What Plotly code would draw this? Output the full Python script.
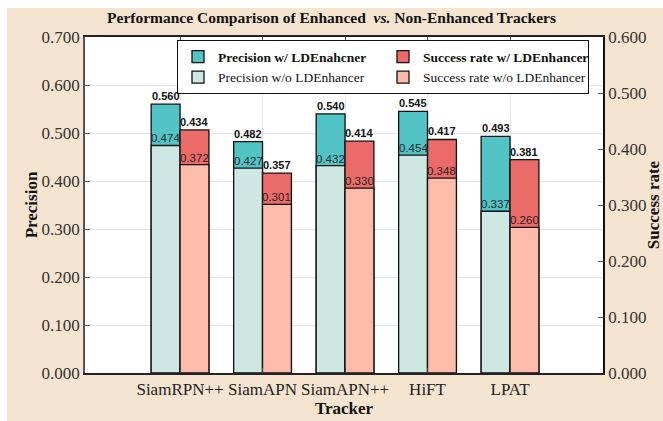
import plotly.graph_objects as go

trackers = ["SiamRPN++", "SiamAPN", "SiamAPN++", "HiFT", "LPAT"]
prec_with = [0.560, 0.482, 0.540, 0.545, 0.493]
prec_without = [0.474, 0.427, 0.432, 0.454, 0.337]
succ_with = [0.434, 0.357, 0.414, 0.417, 0.381]
succ_without = [0.372, 0.301, 0.330, 0.348, 0.260]

SERIF = "Times New Roman, Liberation Serif, serif"
SANS = "Arial, Liberation Sans, sans-serif"
BEIGE = "#F5E4D0"

idx = list(range(len(trackers)))
bw = 0.35
xp = [i - bw / 2 for i in idx]
xs = [i + bw / 2 for i in idx]

line = dict(color="#111111", width=1.3)
fig = go.Figure()
fig.add_trace(go.Bar(x=xp, y=prec_with, width=bw, name="<b>Precision w/ LDEnahcner</b>",
                     marker=dict(color="#52C4C6", line=line), yaxis="y"))
fig.add_trace(go.Bar(x=xs, y=succ_with, width=bw, name="<b>Success rate w/ LDEnhancer</b>",
                     marker=dict(color="#EB6B68", line=line), yaxis="y2"))
fig.add_trace(go.Bar(x=xp, y=prec_without, width=bw, name="Precision w/o LDEnhancer",
                     marker=dict(color="#CDE8E3", line=line), yaxis="y"))
fig.add_trace(go.Bar(x=xs, y=succ_without, width=bw, name="Success rate w/o LDEnhancer",
                     marker=dict(color="#FDBCAA", line=line), yaxis="y2"))

ann = []
for i in idx:
    ann.append(dict(x=xp[i], y=prec_with[i], xref="x", yref="y", text=f"<b>{prec_with[i]:.3f}</b>",
                    showarrow=False, yanchor="bottom", yshift=0,
                    font=dict(family=SANS, size=11, color="#111")))
    ann.append(dict(x=xp[i], y=prec_without[i], xref="x", yref="y", text=f"{prec_without[i]:.3f}",
                    showarrow=False, yanchor="bottom", yshift=-1,
                    font=dict(family=SANS, size=11.5, color="#1c2b2b")))
    ann.append(dict(x=xs[i], y=succ_with[i], xref="x", yref="y2", text=f"<b>{succ_with[i]:.3f}</b>",
                    showarrow=False, yanchor="bottom", yshift=0,
                    font=dict(family=SANS, size=11, color="#111")))
    ann.append(dict(x=xs[i], y=succ_without[i], xref="x", yref="y2", text=f"{succ_without[i]:.3f}",
                    showarrow=False, yanchor="bottom", yshift=-1,
                    font=dict(family=SANS, size=11.5, color="#2b1c1c")))

fig.update_layout(
    width=663, height=421,
    margin=dict(l=85, r=60, t=37, b=48, autoexpand=False),
    paper_bgcolor=BEIGE, plot_bgcolor="white",
    barmode="overlay",
    showlegend=True,
    title=dict(text="<b>Performance Comparison of Enhanced&nbsp; <i>vs.</i> Non-Enhanced Trackers</b>",
               x=0.5, xanchor="center", y=1 - 18 / 421, yanchor="middle",
               font=dict(family=SERIF, size=15.5, color="#111")),
    font=dict(family=SERIF, size=17, color="#222"),
    xaxis=dict(range=[-1.152, 5.127], tickmode="array", tickvals=idx, ticktext=trackers,
               tickangle=0, automargin=False,
               showline=True, linecolor="#222", linewidth=2, mirror="ticks",
               ticks="inside", ticklen=5, tickcolor="#444",
               showgrid=True, gridcolor="#E6E6E6", zeroline=False,
               title=dict(text="<b>Tracker</b>", font=dict(family=SERIF, size=17, color="#111"), standoff=4),
               tickfont=dict(family=SERIF, size=17, color="#222")),
    yaxis=dict(range=[0, 0.7], dtick=0.1, tickformat=".3f", automargin=False,
               showline=True, linecolor="#555", linewidth=1.5,
               ticks="inside", ticklen=5, tickcolor="#555",
               showgrid=True, gridcolor="#E6E6E6", zeroline=False,
               title=dict(text="<b>Precision</b>", font=dict(family=SERIF, size=17, color="#111"), standoff=0),
               tickfont=dict(family=SERIF, size=17, color="#333")),
    yaxis2=dict(range=[0, 0.6], dtick=0.1, tickformat=".3f", overlaying="y", side="right",
                automargin=False,
                showline=True, linecolor="#111", linewidth=1.5,
                ticks="inside", ticklen=5, tickcolor="#555",
                showgrid=False, zeroline=False,
                title=dict(text="<b>Success rate</b>", font=dict(family=SERIF, size=17, color="#111"), standoff=20),
                tickfont=dict(family=SERIF, size=17, color="#333")),
    legend=dict(orientation="h", x=(589 - 85) / 518, y=0.99, xanchor="right", yanchor="top",
                bgcolor="white", bordercolor="#111", borderwidth=1,
                font=dict(family=SERIF, size=13.5, color="#111"),
                entrywidth=160, traceorder="normal", tracegroupgap=0, itemwidth=30),
    annotations=ann,
    shapes=[
        dict(type="rect", xref="paper", yref="paper", x0=-0.5, x1=(7 - 85) / 518, y0=-0.5, y1=1.5,
             fillcolor="white", line=dict(width=0), layer="below"),
        dict(type="rect", xref="paper", yref="paper", x0=-0.5, x1=1.5, y0=(373 - 8) / 336, y1=1.5,
             fillcolor="white", line=dict(width=0), layer="below"),
    ],
)

fig.write_html("out.html")
